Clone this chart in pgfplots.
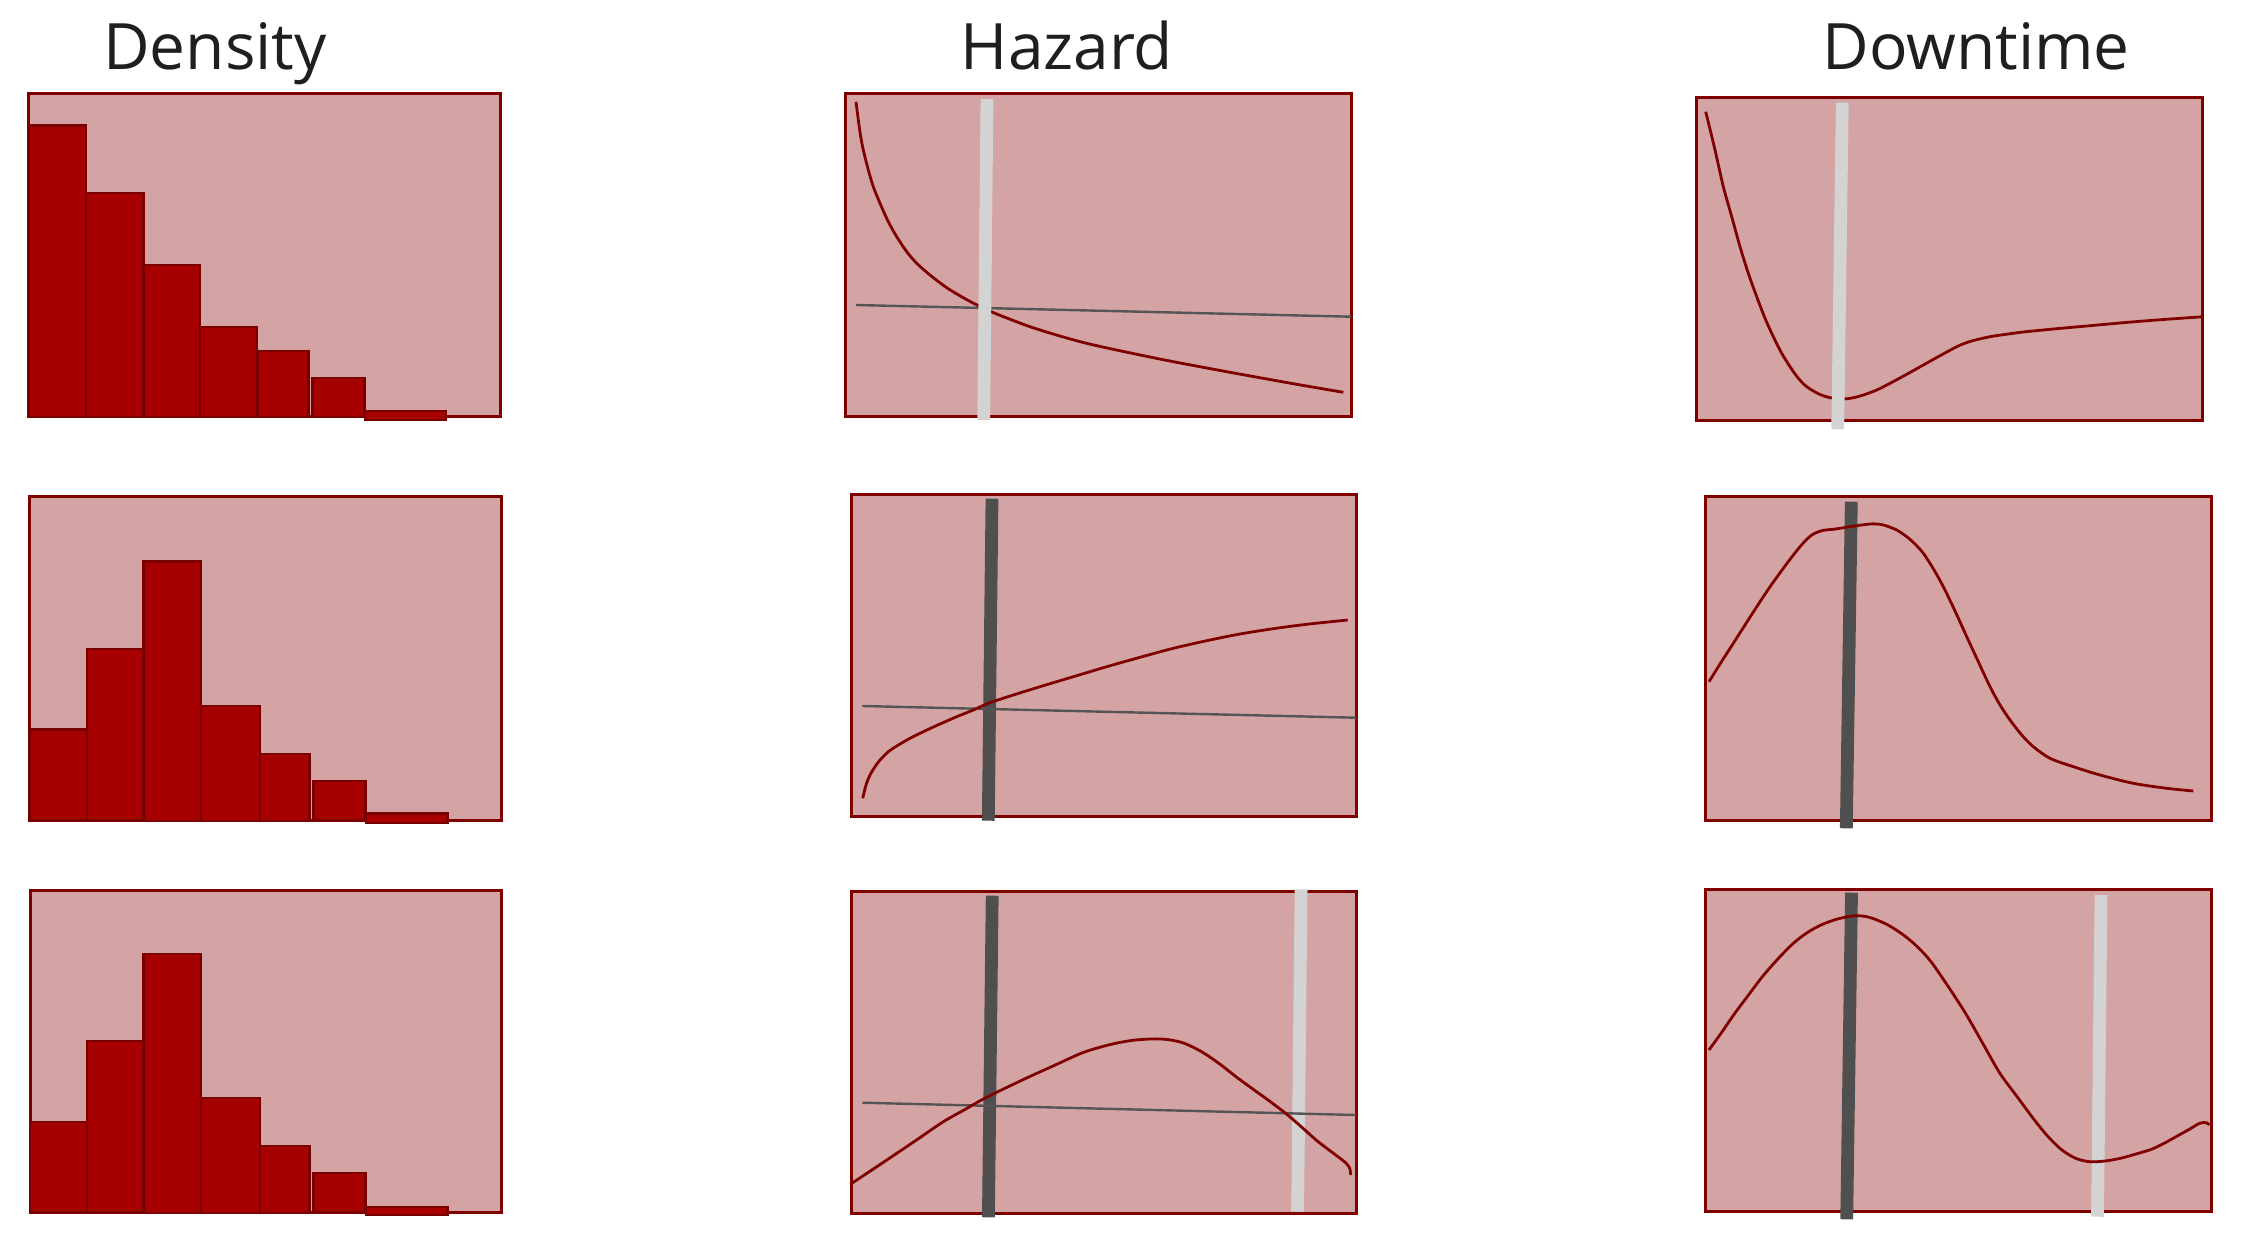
\documentclass[border=0pt]{standalone}
\usepackage{pgfplots}
\pgfplotsset{compat=1.18}
\usepackage{fontspec}
\setmainfont{Open Sans}

\definecolor{bgpink}{HTML}{D4A4A4}
\definecolor{boxred}{HTML}{800000}
\definecolor{barred}{HTML}{A60000}
\definecolor{bardark}{HTML}{780000}
\definecolor{curvered}{HTML}{800000}
\definecolor{refgray}{HTML}{555555}
\definecolor{lightbar}{HTML}{D3D3D3}
\definecolor{darkbar}{HTML}{4F4F4F}
\definecolor{titlegray}{HTML}{1F1F1F}

% all data in pixel units of the sketch (y counted from the top)
\pgfplotsset{
  panel/.style={scale only axis, anchor=south west, clip=false, ticks=none,
    axis background/.style={fill=bgpink},
    axis line style={draw=boxred, line width=0.75pt},
    y filter/.expression={1245-y}},
  binbar/.style={fill=barred, draw=bardark, line width=0.6pt},
  curve/.style={curvered, line width=0.7pt, smooth},
  refline/.style={refgray, line width=0.6pt},
  lightv/.style={lightbar, line width=3.2pt},
  darkv/.style={darkbar, line width=3.2pt},
}
\newcommand{\hbin}[4]{\addplot[binbar] coordinates {(#1,#4) (#1,#3) (#2,#3) (#2,#4)} -- cycle;}

\begin{document}
\begin{tikzpicture}
\path[use as bounding box] (0,0) rectangle (561.5pt,311.25pt);

\tikzset{ttl/.style={anchor=base, text=titlegray, font=\fontsize{16}{20}\selectfont}}
\node[ttl] at (53.75pt,293.75pt) {Density};
\node[ttl] at (266.75pt,293.75pt) {Hazard};
\node[ttl] at (494pt,293.75pt) {Downtime};

%% row 1
\begin{axis}[panel, at={(7.175pt,207.075pt)}, width=117.825pt, height=80.85pt,
  xmin=28.7, xmax=500, ymin=828.3, ymax=1151.7]
  \hbin{28.7}{85.7}{125.7}{416.7}
  \hbin{85.7}{143.3}{193.3}{416.7}
  \hbin{143.3}{200}{264.7}{416.7}
  \hbin{200}{256.7}{326.7}{416.7}
  \hbin{257.3}{308.3}{350.7}{416.7}
  \hbin{312.3}{364.3}{377.7}{416.7}
  \hbin{365}{446}{410.7}{420}
\end{axis}

\begin{axis}[panel, at={(211.425pt,207.075pt)}, width=126.325pt, height=80.85pt,
  xmin=845.7, xmax=1351, ymin=828.3, ymax=1151.7]
  \addplot[refline] coordinates {(856,305) (1351,316.7)};
  \addplot[curve] coordinates {(856,101.7) (858.3,120) (860.7,136.7) (863.3,150)
    (868.3,170) (873.3,186.7) (880,203.3) (888.3,221.7) (896.7,236.7)
    (906.7,251.7) (916.7,263.3) (930,275) (946.7,287.7) (963.3,297.7)
    (978.3,305.7) (996.7,314) (1030,326.7) (1063.3,337) (1096.7,345.7)
    (1163.3,359.7) (1230,372.3) (1296.7,384.3) (1343.3,392.3)};
  \addplot[lightv] coordinates {(987,99) (983.7,420)};
\end{axis}

\begin{axis}[panel, at={(424.175pt,206.25pt)}, width=126.4pt, height=80.575pt,
  xmin=1696.7, xmax=2202.3, ymin=825, ymax=1147.3]
  \addplot[curve] coordinates {(1705.7,111.7) (1715,150) (1723.3,186.7)
    (1731.7,216.7) (1740,246.7) (1748.3,273.3) (1756.7,296.7) (1765,318.3)
    (1773.3,336.7) (1781.7,353.3) (1790,366.7) (1798.3,378.3) (1806.7,386.7)
    (1818.3,393.7) (1830,397.7) (1843.3,399) (1853.3,397.7) (1863.3,395)
    (1876.7,390) (1890,383.3) (1906.7,374.3) (1923.3,365) (1940,355.7)
    (1956.7,346.7) (1965,343.2) (1973.3,340.5) (1990,336.7) (2006.7,334.2)
    (2023.3,332) (2056.7,328.7) (2090,325.7) (2123.3,322.7) (2156.7,320)
    (2203.3,316.7)};
  \addplot[lightv] coordinates {(1842.3,102.7) (1837.7,429.3)};
\end{axis}

%% row 2
\begin{axis}[panel, at={(7.325pt,106.25pt)}, width=117.925pt, height=80.825pt,
  xmin=29.3, xmax=501, ymin=425, ymax=748.3]
  \hbin{29.3}{86.7}{729.3}{820}
  \hbin{86.7}{143.3}{648.7}{820}
  \hbin{143.3}{200.7}{561.3}{821}
  \hbin{200.7}{260}{705.7}{821}
  \hbin{260}{309.3}{753.7}{821}
  \hbin{313.3}{365.3}{780.7}{820}
  \hbin{366}{447.3}{813.3}{822.7}
\end{axis}

\begin{axis}[panel, at={(212.75pt,107.075pt)}, width=126.25pt, height=80.6pt,
  xmin=851, xmax=1356, ymin=428.3, ymax=750.7]
  \addplot[darkv] coordinates {(992,498.7) (988.3,820.7)};
  \addplot[refline] coordinates {(862.3,706) (1356,717.7)};
  \addplot[curve] coordinates {(862.7,798.3) (866,785) (870,775) (875,766.7)
    (880,760) (888.3,751.7) (896.7,746) (910,738.3) (923.3,731.7) (940,724)
    (956.7,716.7) (973.3,710) (988.3,703.3) (1013.3,695) (1040,686.7)
    (1073.3,676.7) (1106.7,666.7) (1140,657.3) (1173.3,648.3) (1206.7,640.7)
    (1240,634) (1273.3,628.7) (1306.7,624.3) (1347.7,620)};
\end{axis}

\begin{axis}[panel, at={(426.425pt,106.25pt)}, width=126.325pt, height=80.825pt,
  xmin=1705.7, xmax=2211, ymin=425, ymax=748.3]
  \addplot[darkv] coordinates {(1851.3,501.7) (1846.3,828.3)};
  \addplot[curve] coordinates {(1709,681.7) (1720,664) (1733.3,643.3)
    (1746.7,622.3) (1760,601.7) (1771.7,584.3) (1783.3,568.3) (1793.3,555)
    (1800,546.7) (1806.7,539.3) (1813.3,534) (1823.3,530.3) (1833.3,529.3)
    (1850,526.7) (1870,524) (1880,524.3) (1886.7,526) (1896.7,530)
    (1906.7,536.7) (1915,544) (1923.3,553.3) (1933.3,568.7) (1943.3,586.7)
    (1955,611) (1966.7,636.7) (1978.3,661.7) (1990,686.7) (2000,705) (2010,720)
    (2021.7,735) (2033.3,746.7) (2050,758.3) (2073.3,766.7) (2100,775)
    (2133.3,783.3) (2166.7,788.3) (2193.3,791)};
\end{axis}

%% row 3
\begin{axis}[panel, at={(7.5pt,8.25pt)}, width=117.75pt, height=80.5pt,
  xmin=30, xmax=501, ymin=33, ymax=355]
  \hbin{30}{86.7}{1121.7}{1212}
  \hbin{86.7}{143.3}{1040.7}{1212}
  \hbin{143.3}{200.7}{953.7}{1213}
  \hbin{200.7}{260}{1098}{1213}
  \hbin{260}{309.3}{1145.7}{1213}
  \hbin{313.3}{365.3}{1172.7}{1212}
  \hbin{366}{447.3}{1206.7}{1215}
\end{axis}

\begin{axis}[panel, at={(212.75pt,7.925pt)}, width=126.25pt, height=80.4pt,
  xmin=851, xmax=1356, ymin=31.7, ymax=353.3]
  \addplot[darkv] coordinates {(992.2,895.7) (988.4,1217.3)};
  \addplot[lightv] coordinates {(1301.1,889.3) (1297.6,1211.7)};
  \addplot[refline] coordinates {(862.4,1102.7) (1355.8,1115)};
  \addplot[curve] coordinates {(852.7,1182.7) (874.4,1168.3) (891.7,1156.7)
    (917.5,1139.3) (943.3,1121.7) (964,1110) (984.6,1098.3) (1007,1087.3)
    (1029.4,1076.7) (1055.2,1065) (1081,1053.3) (1098.3,1047.7) (1115.5,1043.3)
    (1132.7,1040.3) (1149.9,1039) (1160.2,1039) (1170.6,1040) (1184.4,1043.3)
    (1201.6,1051.7) (1218.8,1063.3) (1236,1076.7) (1253.2,1089.3)
    (1270.4,1101.7) (1287.7,1115) (1304.9,1130) (1316.9,1140.7) (1329,1150)
    (1339.3,1157.7) (1346.2,1163.3) (1349.7,1168.3) (1350.7,1175)};
\end{axis}

\begin{axis}[panel, at={(426.45pt,8.5pt)}, width=126.3pt, height=80.5pt,
  xmin=1705.8, xmax=2211, ymin=34, ymax=356]
  \addplot[darkv] coordinates {(1851.5,892.7) (1846.7,1219.3)};
  \addplot[lightv] coordinates {(2101,895) (2097.5,1216.7)};
  \addplot[curve] coordinates {(1708.9,1050) (1721,1033.3) (1734.8,1013.3)
    (1748.5,995) (1762.3,976.7) (1777.8,959) (1793.3,943.3) (1807.1,932.7)
    (1820.9,925) (1836.4,919.3) (1851.8,916) (1862.2,916) (1872.5,918.3)
    (1888,925) (1903.5,935) (1917.3,946.7) (1931,961.7) (1948.3,986.7)
    (1965.5,1013.3) (1982.7,1043.3) (1999.9,1073.3) (2017.1,1096.7)
    (2034.4,1120) (2048.1,1136.7) (2061.9,1150) (2075.7,1158.3) (2089.4,1161.7)
    (2104.9,1161) (2120.4,1158.3) (2135.9,1154) (2151.4,1149.3) (2165.2,1142.7)
    (2179,1135) (2189.3,1129.3) (2199.6,1123.3) (2206.5,1122.7) (2209.3,1125)};
\end{axis}
\end{tikzpicture}
\end{document}
